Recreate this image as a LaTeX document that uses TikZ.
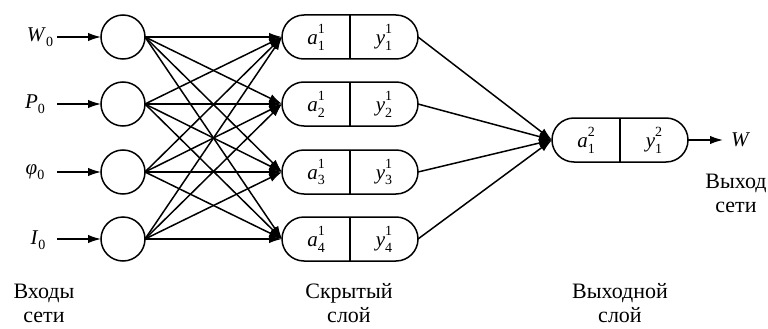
\documentclass[tikz,border=0pt]{standalone}
\usepackage{fontspec}
\setmainfont{Liberation Serif}
\usetikzlibrary{arrows.meta}
\newcommand{\lblfont}{\fontsize{21}{24}\selectfont}
\newcommand{\idxfont}{\fontsize{14}{16}\selectfont}
\newcommand{\varsub}[2]{\textit{#1}\raisebox{-0.25em}{\idxfont #2}}
\newcommand{\varsupsub}[3]{\textit{#1}\makebox[0pt][l]{\raisebox{0.55em}{\idxfont #2}}\raisebox{-0.25em}{\idxfont #3}}
\begin{document}
\begin{tikzpicture}[x=1pt,y=-1pt,
  every node/.style={inner sep=0pt, outer sep=0pt},
  neuron/.style={circle, draw, line width=1.5pt, minimum size=44pt},
  cell/.style={draw, line width=1.5pt, rounded corners=22pt, minimum width=136pt, minimum height=44pt},
  conn/.style={line width=1.5pt, -{Latex[length=13pt,width=8.5pt]}},
  var/.style={font=\lblfont},
  caption/.style={font=\fontsize{22}{24}\selectfont, align=center}]
\useasboundingbox (0,0) rectangle (768,329);

% inputs
\node[var] (lw) at (40,37) {\varsub{W}{0}};
\node[var] (lp) at (35,104) {\varsub{P}{0}};
\node[var] (lf) at (35,172) {\varsub{φ}{0}};
\node[var] (li) at (38,240) {\varsub{I}{0}};
\foreach \i/\y in {1/37,2/104,3/172,4/239}{
  \coordinate (s\i) at (57,\y);
  \node[neuron] (c\i) at (123,\y) {};
  \draw[conn] (s\i) -- (c\i.west);
}

% hidden
\foreach \j/\y in {1/37,2/104,3/172,4/239}{
  \node[cell] (h\j) at (350,\y) {};
  \draw[line width=1.5pt] (h\j.north) -- (h\j.south);
  \node[var] (ha\j) at (316,\y) {\varsupsub{a}{1}{\j}};
  \node[var] (hy\j) at (384,\y) {\varsupsub{y}{1}{\j}};
}
\foreach \i in {1,...,4}{
  \foreach \j in {1,...,4}{
    \draw[conn] (c\i.east) -- (h\j.west);
  }
}

% output
\node[cell] (o) at (620,140) {};
\draw[line width=1.5pt] (o.north) -- (o.south);
\node[var] (oa) at (586,140) {\varsupsub{a}{2}{1}};
\node[var] (oy) at (654,140) {\varsupsub{y}{2}{1}};
\foreach \j in {1,...,4}{
  \draw[conn] (h\j.east) -- (o.west);
}
\coordinate (oe) at (723,140);
\draw[conn] (o.east) -- (oe);
\node[var, anchor=west] (lW) at (731,140) {\textit{W}};

% captions
\node[caption] (cin) at (44,303) {Входы\\сети};
\node[caption] (chid) at (349,303) {Скрытый\\слой};
\node[caption] (cout) at (620,303) {Выходной\\слой};
\node[caption] (cnet) at (736,193) {Выход\\сети};
\end{tikzpicture}
\end{document}
